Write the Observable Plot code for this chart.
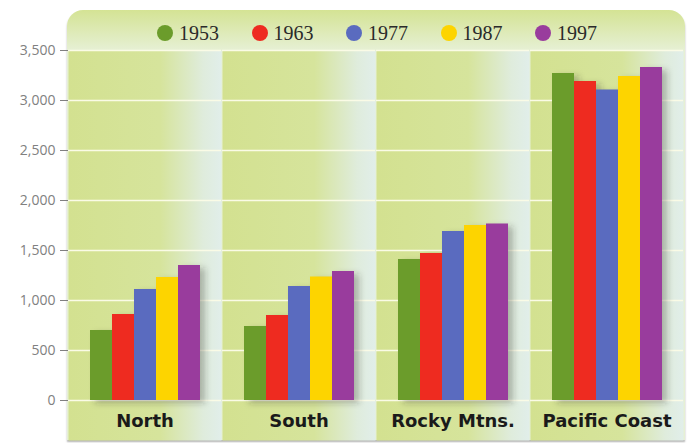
<!DOCTYPE html>
<html><head><meta charset="utf-8">
<script src="https://cdn.jsdelivr.net/npm/d3@7"></script>
<script src="https://cdn.jsdelivr.net/npm/@observablehq/plot@0.6"></script>
<style>
html,body{margin:0;padding:0;background:#fff;overflow:hidden}
#wrap{position:relative;width:687px;height:443px}
#panel{position:absolute;left:67px;top:10px;width:618px;height:430px;border-radius:16px 16px 0 0;background:linear-gradient(#d4e394,#e6f0d4 40px);box-shadow:0 2px 2px rgba(0,0,0,.3)}
#chart{position:absolute;left:0;top:0}
#legend{position:absolute;top:21px;left:157px;display:flex}
.item{width:94.5px;display:flex;align-items:center;font:20px "Liberation Serif";color:#2a2a2a;height:24px}
.dot{width:16px;height:16px;border-radius:50%;margin-right:6px;flex:none}
</style></head><body>
<div id="wrap"><div id="panel"></div><div id="chart"></div><div id="legend"></div></div>
<script>
const regions = ["North", "South", "Rocky Mtns.", "Pacific Coast"];
const years = ["1953", "1963", "1977", "1987", "1997"];
const north = [700, 860, 1110, 1230, 1350];
const south = [740, 850, 1140, 1235, 1290];
const rocky = [1410, 1470, 1690, 1750, 1765];
const pacific = [3270, 3190, 3105, 3240, 3330];
const yTicks = [0, 500, 1000, 1500, 2000, 2500, 3000, 3500];
const colors = ["#6b9c2b", "#ee2b20", "#5a6bbf", "#fdd400", "#993c9d"];

const series = [north, south, rocky, pacific];
const rows = [];
regions.forEach((r, i) => years.forEach((y, j) => rows.push({region: r, year: y, value: series[i][j]})));

const plot = Plot.plot({
  width: 687, height: 443,
  marginLeft: 67, marginRight: 2, marginTop: 50, marginBottom: 43,
  style: {background: "transparent", fontFamily: "Open Sans", fontSize: "14px", color: "#808080"},
  fx: {domain: regions, padding: 0.006, axis: null},
  x: {domain: years, paddingInner: 0, paddingOuter: 0.84, axis: null},
  y: {domain: [0, 3500], ticks: yTicks, tickFormat: d3.format(","), tickSize: 8, tickPadding: 5, label: null},
  color: {domain: years, range: colors},
  marks: [
    Plot.frame({fill: "url(#bandGrad)", insetBottom: -40}),
    Plot.ruleY(yTicks, {stroke: "#fafbe6", strokeWidth: 1.5}),
    Plot.barY(rows, {fx: "region", x: "year", y: "value", fill: "#303030", fillOpacity: 0.3, dx: 5, dy: 3}),
    Plot.barY(rows, {fx: "region", x: "year", y: "value", fill: "year"}),
    Plot.text(regions, {fx: d => d, text: d => d, frameAnchor: "bottom", lineAnchor: "middle", dy: 21, fontSize: 18, fontWeight: "bold", fill: "#1a1a1a", fontFamily: "DejaVu Sans"})
  ]
});

const defs = d3.select(plot).insert("defs", ":first-child");
const g = defs.append("linearGradient").attr("id", "bandGrad").attr("x1", 0).attr("x2", 1).attr("y1", 0).attr("y2", 0);
[[0, "#d3e190"], [0.6, "#d6e49c"], [0.88, "#dfecdc"], [1, "#e1eeea"]].forEach(([o, c]) => g.append("stop").attr("offset", o).attr("stop-color", c));
defs.append("filter").attr("id", "blur").attr("x", "-50%").attr("y", "-50%").attr("width", "200%").attr("height", "200%")
  .append("feGaussianBlur").attr("stdDeviation", 3);
d3.select(plot).selectAll('[fill="#303030"]').attr("filter", "url(#blur)");

document.getElementById("chart").appendChild(plot);

const legend = d3.select("#legend");
years.forEach((y, i) => {
  const it = legend.append("div").attr("class", "item");
  it.append("div").attr("class", "dot").style("background", colors[i]);
  it.append("span").text(y);
});
</script>
</body></html>
